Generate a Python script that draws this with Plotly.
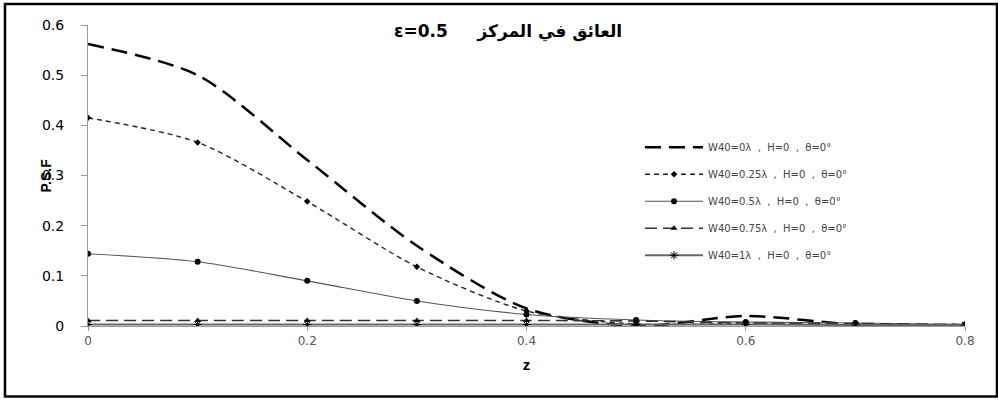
import plotly.graph_objects as go

# Axial distance z and point-spread-function values for each W40 aberration level
z = [0.0, 0.1, 0.2, 0.3, 0.4, 0.5, 0.6, 0.7, 0.8]
psf_w0 = [0.562, 0.500, 0.331, 0.160, 0.035, 0.000, 0.020, 0.003, 0.002]
psf_w025 = [0.415, 0.366, 0.248, 0.118, 0.030, 0.004, 0.005, 0.002, 0.001]
psf_w05 = [0.144, 0.128, 0.090, 0.050, 0.023, 0.012, 0.008, 0.006, 0.003]
psf_w075 = [0.011, 0.011, 0.011, 0.011, 0.011, 0.010, 0.006, 0.005, 0.003]
psf_w1 = [0.003, 0.003, 0.003, 0.003, 0.003, 0.003, 0.003, 0.002, 0.002]

sp = "\u00a0\u00a0"
labels = [
    f"W40=0\u03bb{sp},{sp}H=0{sp},{sp}\u03b8=0\u00b0",
    f"W40=0.25\u03bb{sp},{sp}H=0{sp},{sp}\u03b8=0\u00b0",
    f"W40=0.5\u03bb{sp},{sp}H=0{sp},{sp}\u03b8=0\u00b0",
    f"W40=0.75\u03bb{sp},{sp}H=0{sp},{sp}\u03b8=0\u00b0",
    f"W40=1\u03bb{sp},{sp}H=0{sp},{sp}\u03b8=0\u00b0",
]
x_ticks = [0, 0.2, 0.4, 0.6, 0.8]
y_ticks = [0, 0.1, 0.2, 0.3, 0.4, 0.5, 0.6]

fig = go.Figure()

fig.add_trace(go.Scatter(
    x=z, y=psf_w0, name=labels[0], mode="lines", legendgroup="a",
    line=dict(color="black", width=2.5, dash="16px,8px", shape="spline", smoothing=0.8),
))
fig.add_trace(go.Scatter(
    x=z, y=psf_w025, name=labels[1], mode="lines+markers", legendgroup="b",
    line=dict(color="#222222", width=1.4, dash="5px,4px", shape="spline", smoothing=0.8),
    marker=dict(symbol="diamond", size=5, color="black"),
))
fig.add_trace(go.Scatter(
    x=z, y=psf_w05, name=labels[2], mode="lines+markers", legendgroup="c",
    line=dict(color="#555555", width=1.1, shape="spline", smoothing=0.8),
    marker=dict(symbol="circle", size=6, color="black"),
))
fig.add_trace(go.Scatter(
    x=z, y=psf_w075, name=labels[3], mode="lines+markers", legendgroup="d",
    line=dict(color="#333333", width=1.6, dash="12px,6px", shape="spline", smoothing=0.8),
    marker=dict(symbol="triangle-up", size=6, color="black"),
))
fig.add_trace(go.Scatter(
    x=z, y=psf_w1, name=labels[4], mode="lines+markers", legendgroup="e",
    line=dict(color="#666666", width=2, shape="spline", smoothing=0.8),
    marker=dict(symbol="asterisk-open", size=7, color="black", line=dict(width=1, color="black")),
))

# Title
fig.add_annotation(
    xref="paper", yref="paper", x=(508 - 88) / 877, y=(326.5 - 32) / 301.5,
    xanchor="center", yanchor="middle",
    text="<b>\u03b5=0.5\u00a0\u00a0\u00a0\u00a0\u00a0\u0627\u0644\u0639\u0627\u0626\u0642 \u0641\u064a \u0627\u0644\u0645\u0631\u0643\u0632</b>",
    showarrow=False, font=dict(family="DejaVu Sans", size=17, color="black"),
)

# Y-axis title, placed beside the tick labels
fig.add_annotation(
    xref="paper", yref="paper", x=(45 - 88) / 877, y=0.5,
    xanchor="center", yanchor="middle", textangle=-90,
    text="<b>P.S.F</b>", showarrow=False,
    font=dict(family="Liberation Sans, Arial", size=14, color="black"),
)

# Outer frame around the whole chart
fig.add_shape(
    type="rect", xref="paper", yref="paper",
    x0=(5 - 88) / 877, x1=(997 - 88) / 877,
    y0=(326.5 - 397) / 301.5, y1=(326.5 - 4) / 301.5,
    line=dict(color="black", width=2.5), fillcolor="rgba(0,0,0,0)", layer="below",
)

fig.update_layout(
    width=998, height=400,
    margin=dict(l=88, r=33, t=25, b=73.5),
    paper_bgcolor="white", plot_bgcolor="white",
    font=dict(family="Liberation Sans, Arial", color="black"),
    showlegend=True,
    legend=dict(
        x=(640 - 88) / 877, y=(326.5 - 133) / 301.5, xanchor="left", yanchor="top",
        bgcolor="rgba(0,0,0,0)", borderwidth=0,
        font=dict(family="DejaVu Sans", size=10, color="#444444"),
        itemwidth=58, tracegroupgap=8, traceorder="grouped",
    ),
    xaxis=dict(
        range=[0, 0.8], tickvals=x_ticks, ticktext=["0", "0.2", "0.4", "0.6", "0.8"],
        showgrid=False, zeroline=False, showline=True, linecolor="#999999", linewidth=1,
        ticks="outside", ticklen=4, tickcolor="#999999",
        tickfont=dict(family="DejaVu Sans", size=12, color="#555555"),
        title=dict(text="<b>z</b>", font=dict(size=15), standoff=12),
    ),
    yaxis=dict(
        range=[0, 0.6], tickvals=y_ticks, ticktext=["0", "0.1", "0.2", "0.3", "0.4", "0.5", "0.6"],
        showgrid=False, zeroline=False, showline=True, linecolor="#999999", linewidth=1,
        ticks="outside", ticklen=6, tickcolor="#999999", ticklabelstandoff=14,
        tickfont=dict(family="DejaVu Sans", size=14, color="black"),
    ),
)

fig.write_html("out.html")
